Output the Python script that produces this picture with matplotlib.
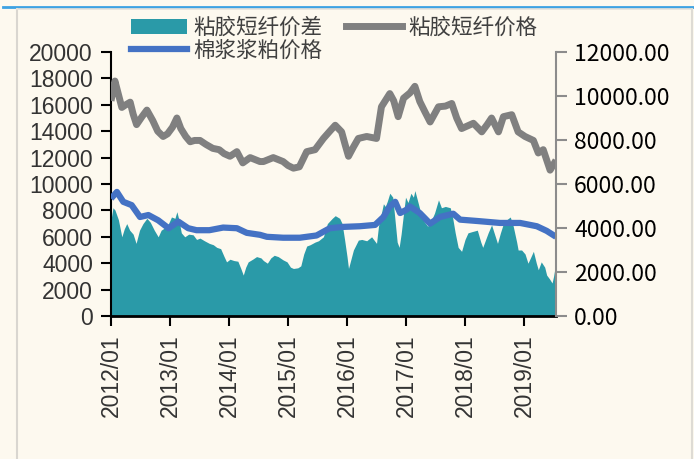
import matplotlib
matplotlib.use("Agg")
import matplotlib.pyplot as plt
from matplotlib.lines import Line2D
from matplotlib.patches import Patch
from matplotlib.ticker import FormatStrFormatter
import numpy as np

plt.rcParams['font.family'] = ['Liberation Sans', 'Noto Sans CJK SC', 'DejaVu Sans']

# Month offsets from 2012/01 and values (yuan/ton)
vsf_m = [0, 0.8, 1.5, 2.2, 3.0, 3.9, 4.5, 5.2, 6.3, 7.3, 8.5, 9.5, 10.6, 11.5, 12.5, 13.4,
         14.2, 15.2, 16.1, 17.0, 18.1, 19.3, 20.7, 22.0, 23.0, 24.2, 25.6, 26.8, 28.3, 30.3,
         31.0, 33.0, 35.0, 36.0, 37.1, 38.3, 39.8, 41.5, 43.2, 44.5, 45.6, 46.9, 47.6, 48.3,
         49.3, 50.3, 52.0, 54.0, 55.0, 56.7, 57.5, 58.4, 59.5, 60.8, 61.8, 62.8, 63.8, 64.9,
         66.6, 68.0, 69.3, 70.3, 71.3, 72.5, 73.7, 75.4, 76.5, 77.4, 78.8, 79.8, 81.5, 82.8,
         84.2, 85.9, 86.9, 87.9, 89.3, 90.5]
vsf_price = [16300, 17800, 16800, 15800, 16000, 16200, 15300, 14500, 15100, 15600, 14800,
             14000, 13600, 13800, 14300, 15000, 14200, 13600, 13200, 13300, 13300, 13000,
             12700, 12600, 12300, 12100, 12450, 11600, 12000, 11700, 11700, 12000, 11700,
             11400, 11200, 11300, 12450, 12600, 13450, 14000, 14450, 13950, 13000, 12100,
             12800, 13450, 13600, 13450, 15850, 16850, 16300, 15100, 16500, 16900, 17400,
             16250, 15500, 14700, 15850, 15900, 16100, 15000, 14200, 14400, 14600, 13950,
             14500, 15000, 13950, 15100, 15250, 13950, 13600, 13300, 12350, 12600, 11050,
             11800]

pulp_m = [0, 1.2, 2.5, 4.2, 5.9, 7.6, 9.6, 11.7, 13.7, 15.7, 17.4, 20.0, 22.8, 25.6, 27.6,
          30.3, 31.7, 35.0, 38.4, 41.8, 44.5, 47.2, 50.6, 53.7, 55.4, 56.7, 57.8, 58.8,
          60.1, 60.8, 62.8, 64.9, 66.9, 69.6, 71.0, 74.4, 79.1, 83.2, 86.6, 88.6, 90.5]
pulp_price = [8900, 9400, 8650, 8400, 7500, 7650, 7250, 6650, 7150, 6650, 6500, 6500, 6700,
              6650, 6300, 6150, 6000, 5930, 5930, 6100, 6650, 6750, 6800, 6900, 7500, 8300,
              8650, 7800, 8050, 8300, 7800, 7000, 7500, 7750, 7300, 7200, 7050, 7050, 6800,
              6450, 6000]

spread_m = [0, 0.4, 0.8, 1.5, 2.2, 2.7, 3.2, 3.8, 4.5, 5.1, 5.8, 6.5, 7.3, 8.0, 8.8, 9.6,
            10.2, 11.0, 11.7, 12.3, 13.0, 13.4, 13.8, 14.3, 15.0, 15.8, 16.7, 17.4, 18.1,
            19.0, 20.0, 20.8, 21.5, 22.3, 23.0, 23.5, 24.2, 25.0, 25.8, 26.4, 26.9, 27.4,
            27.9, 28.8, 29.6, 30.5, 31.0, 31.8, 32.5, 33.2, 34.0, 35.0, 35.8, 36.5, 37.1,
            38.0, 38.6, 39.2, 39.8, 40.5, 41.5, 42.2, 43.2, 44.0, 45.0, 45.6, 46.5, 47.0,
            47.5, 48.0, 48.3, 48.8, 49.3, 50.3, 51.0, 52.0, 53.0, 54.0, 54.4, 55.0, 55.4,
            55.8, 56.2, 56.7, 57.3, 57.7, 58.2, 58.6, 59.0, 59.5, 59.9, 60.4, 61.0, 61.5,
            61.8, 62.3, 63.0, 63.6, 64.4, 65.1, 65.8, 66.6, 67.2, 68.0, 69.0, 69.5, 70.0,
            70.6, 71.3, 72.0, 72.6, 73.5, 74.5, 75.2, 75.6, 76.2, 76.7, 77.4, 78.0, 78.6,
            79.2, 79.8, 80.5, 81.2, 81.8, 82.5, 82.8, 83.5, 84.2, 84.8, 85.3, 85.9, 86.5,
            86.9, 87.5, 88.2, 88.6, 89.2, 89.7, 90.0, 90.5]
spread = [7270, 8200, 8030, 7300, 6000, 6600, 7000, 6500, 6200, 5500, 6500, 7000, 7400,
          7100, 6500, 6000, 6500, 6700, 7000, 7500, 7400, 7900, 7300, 6300, 6000, 6200,
          6150, 5800, 5900, 5700, 5500, 5400, 5200, 5100, 4500, 4100, 4300, 4200, 4150,
          3600, 3100, 3700, 4100, 4300, 4500, 4400, 4200, 4000, 4400, 4600, 4500, 4250,
          4100, 3700, 3600, 3650, 3800, 4700, 5300, 5400, 5600, 5700, 6000, 7000, 7400,
          7600, 7400, 7000, 5800, 4500, 3600, 4300, 5000, 5750, 5800, 5700, 6000, 5500,
          6800, 7800, 8500, 8300, 8700, 9300, 9000, 7500, 5600, 5200, 6200, 7800, 9000,
          8600, 9300, 9000, 9500, 8800, 7800, 7200, 6800, 7200, 7800, 8800, 8200, 8300,
          8200, 7400, 6300, 5200, 4900, 5800, 6300, 6400, 6500, 5600, 5200, 5800, 6300,
          6900, 6200, 5500, 6300, 7000, 7300, 7500, 6800, 5600, 5000, 5000, 4700, 4000,
          4400, 4900, 4000, 3500, 4100, 3700, 3100, 2800, 2500, 3000, 4100]

tick_pos = [0, 12, 24, 36, 48, 60, 72, 84]
tick_labels = ["2012/01", "2013/01", "2014/01", "2015/01", "2016/01", "2017/01",
               "2018/01", "2019/01"]

bg = "#FDF9EF"
teal = "#2A9AA8"
grey = "#808080"
blue = "#4472C4"
txt = "#333333"

fig = plt.figure(figsize=(6.94, 4.59), dpi=100, facecolor=bg)
ax = fig.add_axes([111 / 694, 1 - 316 / 459, 445 / 694, 264 / 459])
ax.set_facecolor(bg)

ax.fill_between(spread_m, spread, 0, color=teal, linewidth=0, zorder=2)
ax.plot(pulp_m, pulp_price, color=blue, linewidth=4.5, solid_joinstyle='round',
        solid_capstyle='butt', zorder=3)
ax.plot(vsf_m, vsf_price, color=grey, linewidth=5, solid_joinstyle='round',
        solid_capstyle='butt', zorder=4)

ax.set_xlim(0, 90.5)
ax.set_ylim(0, 20000)
ax.set_yticks(np.arange(0, 20001, 2000))
ax.set_xticks(tick_pos)
ax.set_xticklabels(tick_labels, rotation=90)
for s in ('top', 'right'):
    ax.spines[s].set_visible(False)
ax.spines['left'].set_linewidth(1.5)
ax.spines['bottom'].set_linewidth(2)
ax.tick_params(axis='both', direction='out', length=7, width=1.5, color='black',
               labelsize=16.5, labelcolor=txt)
ax.tick_params(axis='y', pad=6)
ax.tick_params(axis='x', pad=6)

ax2 = ax.twinx()
ax2.set_ylim(0, 12000)
ax2.set_yticks(np.arange(0, 12001, 2000))
ax2.yaxis.set_major_formatter(FormatStrFormatter('%.2f'))
for s in ('top', 'left', 'bottom'):
    ax2.spines[s].set_visible(False)
ax2.spines['right'].set_color('#8c8c8c')
ax2.spines['right'].set_linewidth(1.5)
ax2.tick_params(axis='y', direction='out', length=8, width=1.5, color='#8c8c8c',
                labelsize=16.5, labelcolor='black', pad=5)
for lab in ax2.get_yticklabels():
    lab.set_fontfamily(['Noto Sans CJK SC', 'DejaVu Sans'])

handles = [Patch(facecolor=teal, edgecolor='none'),
           Line2D([], [], color=blue, linewidth=4.5),
           Line2D([], [], color=grey, linewidth=5)]
labels = ["粘胶短纤价差", "棉浆浆粕价格", "粘胶短纤价格"]
leg = fig.legend(handles, labels, ncol=2, loc='upper left',
                 bbox_to_anchor=(118 / 694, 1 - 4 / 459), frameon=False,
                 prop={'family': ['Noto Sans CJK SC', 'DejaVu Sans'], 'size': 15.5},
                 handlelength=2.6, handleheight=0.7, handletextpad=0.3,
                 columnspacing=1.1, labelspacing=0.05, borderpad=0.1)
for t in leg.get_texts():
    t.set_color('#404040')

# page decorations: top rule and light frame
fig.add_artist(Line2D([3 / 694, 1], [1 - 6.5 / 459] * 2, color='#3DA2E3', linewidth=2))
fig.add_artist(Line2D([17 / 694, 17 / 694], [0, 1 - 9 / 459], color='#d9d6d0', linewidth=1.5))
fig.add_artist(Line2D([17 / 694, 692 / 694], [1 - 9 / 459] * 2, color='#e6e2da', linewidth=1.2))
fig.add_artist(Line2D([692 / 694, 692 / 694], [0, 1 - 9 / 459], color='#dedbd4', linewidth=1.5))

fig.savefig("out.png", dpi=100, facecolor=bg)
